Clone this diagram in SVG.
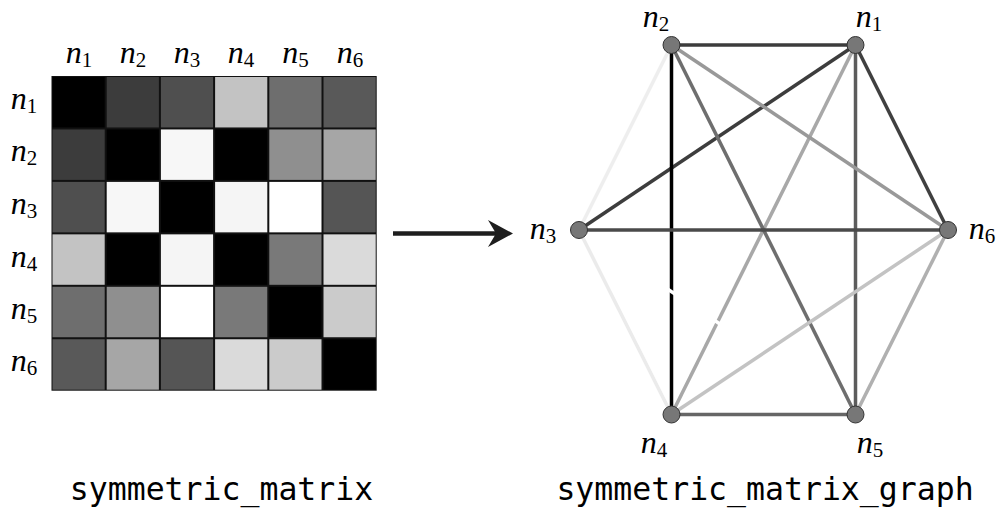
<svg xmlns="http://www.w3.org/2000/svg" width="1000" height="508" viewBox="0 0 1000 508">
<style>
.lbl{font-family:"Liberation Serif","Times New Roman",serif;font-size:32px;fill:#000}
.lbl .v{font-style:italic}
.lbl .s{font-size:21px}
.cap{font-family:"DejaVu Sans Mono","Liberation Mono",monospace;font-size:31.5px;fill:#000}
.edge{stroke-width:3.5;fill:none}
.node{fill:#777;stroke:#333;stroke-width:1}
</style>
<rect width="1000" height="508" fill="#fff"/>
<g id="matrix">
<rect x="51.5" y="76" width="325.2" height="314.7" fill="#111"/>
<g id="row1">
<rect x="52.5" y="77" width="52.2" height="50.45" fill="#000"/>
<rect x="106.7" y="77" width="52.2" height="50.45" fill="#3c3c3c"/>
<rect x="160.9" y="77" width="52.2" height="50.45" fill="#4f4f4f"/>
<rect x="215.1" y="77" width="52.2" height="50.45" fill="#c3c3c3"/>
<rect x="269.3" y="77" width="52.2" height="50.45" fill="#6e6e6e"/>
<rect x="323.5" y="77" width="52.2" height="50.45" fill="#595959"/>
</g>
<g id="row2">
<rect x="52.5" y="129.45" width="52.2" height="50.45" fill="#3c3c3c"/>
<rect x="106.7" y="129.45" width="52.2" height="50.45" fill="#000"/>
<rect x="160.9" y="129.45" width="52.2" height="50.45" fill="#f7f7f7"/>
<rect x="215.1" y="129.45" width="52.2" height="50.45" fill="#000"/>
<rect x="269.3" y="129.45" width="52.2" height="50.45" fill="#8f8f8f"/>
<rect x="323.5" y="129.45" width="52.2" height="50.45" fill="#a6a6a6"/>
</g>
<g id="row3">
<rect x="52.5" y="181.9" width="52.2" height="50.45" fill="#4f4f4f"/>
<rect x="106.7" y="181.9" width="52.2" height="50.45" fill="#f7f7f7"/>
<rect x="160.9" y="181.9" width="52.2" height="50.45" fill="#000"/>
<rect x="215.1" y="181.9" width="52.2" height="50.45" fill="#f5f5f5"/>
<rect x="269.3" y="181.9" width="52.2" height="50.45" fill="#fff"/>
<rect x="323.5" y="181.9" width="52.2" height="50.45" fill="#555"/>
</g>
<g id="row4">
<rect x="52.5" y="234.35" width="52.2" height="50.45" fill="#c3c3c3"/>
<rect x="106.7" y="234.35" width="52.2" height="50.45" fill="#000"/>
<rect x="160.9" y="234.35" width="52.2" height="50.45" fill="#f5f5f5"/>
<rect x="215.1" y="234.35" width="52.2" height="50.45" fill="#000"/>
<rect x="269.3" y="234.35" width="52.2" height="50.45" fill="#797979"/>
<rect x="323.5" y="234.35" width="52.2" height="50.45" fill="#dadada"/>
</g>
<g id="row5">
<rect x="52.5" y="286.8" width="52.2" height="50.45" fill="#6e6e6e"/>
<rect x="106.7" y="286.8" width="52.2" height="50.45" fill="#8f8f8f"/>
<rect x="160.9" y="286.8" width="52.2" height="50.45" fill="#fff"/>
<rect x="215.1" y="286.8" width="52.2" height="50.45" fill="#797979"/>
<rect x="269.3" y="286.8" width="52.2" height="50.45" fill="#000"/>
<rect x="323.5" y="286.8" width="52.2" height="50.45" fill="#cbcbcb"/>
</g>
<g id="row6">
<rect x="52.5" y="339.25" width="52.2" height="50.45" fill="#595959"/>
<rect x="106.7" y="339.25" width="52.2" height="50.45" fill="#a6a6a6"/>
<rect x="160.9" y="339.25" width="52.2" height="50.45" fill="#555"/>
<rect x="215.1" y="339.25" width="52.2" height="50.45" fill="#dadada"/>
<rect x="269.3" y="339.25" width="52.2" height="50.45" fill="#cbcbcb"/>
<rect x="323.5" y="339.25" width="52.2" height="50.45" fill="#000"/>
</g>
</g>
<g id="matrix-col-labels" class="lbl" text-anchor="middle">
<text x="79" y="63"><tspan class="v">n</tspan><tspan class="s" dy="4">1</tspan></text>
<text x="133" y="63"><tspan class="v">n</tspan><tspan class="s" dy="4">2</tspan></text>
<text x="187" y="63"><tspan class="v">n</tspan><tspan class="s" dy="4">3</tspan></text>
<text x="241" y="63"><tspan class="v">n</tspan><tspan class="s" dy="4">4</tspan></text>
<text x="295.5" y="63"><tspan class="v">n</tspan><tspan class="s" dy="4">5</tspan></text>
<text x="350" y="63"><tspan class="v">n</tspan><tspan class="s" dy="4">6</tspan></text>
</g>
<g id="matrix-row-labels" class="lbl" text-anchor="middle">
<text x="24" y="108.5"><tspan class="v">n</tspan><tspan class="s" dy="4">1</tspan></text>
<text x="24" y="161"><tspan class="v">n</tspan><tspan class="s" dy="4">2</tspan></text>
<text x="24" y="213.5"><tspan class="v">n</tspan><tspan class="s" dy="4">3</tspan></text>
<text x="24" y="266.5"><tspan class="v">n</tspan><tspan class="s" dy="4">4</tspan></text>
<text x="24" y="319"><tspan class="v">n</tspan><tspan class="s" dy="4">5</tspan></text>
<text x="24" y="371"><tspan class="v">n</tspan><tspan class="s" dy="4">6</tspan></text>
</g>
<g id="arrow">
<line x1="393" y1="233.5" x2="500" y2="233.5" stroke="#1e1e1e" stroke-width="4.5"/>
<path d="M513,233.5 L488,220 L496,233.5 L488,247 Z" fill="#1e1e1e"/>
</g>
<g id="connectors" class="edge">
<line x1="855.5" y1="45" x2="671.5" y2="45" stroke="#3c3c3c"/>
<line x1="855.5" y1="45" x2="579" y2="230" stroke="#3d3d3d"/>
<line x1="855.5" y1="45" x2="671.5" y2="414.5" stroke="#a8a8a8"/>
<line x1="855.5" y1="45" x2="855.5" y2="414.5" stroke="#5c5c5c"/>
<line x1="855.5" y1="45" x2="948" y2="230" stroke="#404040"/>
<line x1="671.5" y1="45" x2="579" y2="230" stroke="#eeeeee"/>
<line x1="671.5" y1="45" x2="671.5" y2="414.5" stroke="#000"/>
<line x1="671.5" y1="45" x2="855.5" y2="414.5" stroke="#6e6e6e"/>
<line x1="671.5" y1="45" x2="948" y2="230" stroke="#999999"/>
<line x1="579" y1="230" x2="671.5" y2="414.5" stroke="#ebebeb"/>
<line x1="579" y1="230" x2="855.5" y2="414.5" stroke="#ffffff"/>
<line x1="579" y1="230" x2="948" y2="230" stroke="#4a4a4a"/>
<line x1="671.5" y1="414.5" x2="855.5" y2="414.5" stroke="#666666"/>
<line x1="671.5" y1="414.5" x2="948" y2="230" stroke="#c3c3c3"/>
<line x1="855.5" y1="414.5" x2="948" y2="230" stroke="#b0b0b0"/>
</g>
<g id="node-n1"><circle class="node" cx="855.5" cy="45" r="8.5"/><text class="lbl" x="869" y="27" text-anchor="middle"><tspan class="v">n</tspan><tspan class="s" dy="4">1</tspan></text></g>
<g id="node-n2"><circle class="node" cx="671.5" cy="45" r="8.5"/><text class="lbl" x="656" y="27" text-anchor="middle"><tspan class="v">n</tspan><tspan class="s" dy="4">2</tspan></text></g>
<g id="node-n3"><circle class="node" cx="579" cy="230" r="8.5"/><text class="lbl" x="543" y="239" text-anchor="middle"><tspan class="v">n</tspan><tspan class="s" dy="4">3</tspan></text></g>
<g id="node-n4"><circle class="node" cx="671.5" cy="414.5" r="8.5"/><text class="lbl" x="654" y="453" text-anchor="middle"><tspan class="v">n</tspan><tspan class="s" dy="4">4</tspan></text></g>
<g id="node-n5"><circle class="node" cx="855.5" cy="414.5" r="8.5"/><text class="lbl" x="870" y="453" text-anchor="middle"><tspan class="v">n</tspan><tspan class="s" dy="4">5</tspan></text></g>
<g id="node-n6"><circle class="node" cx="948" cy="230" r="8.5"/><text class="lbl" x="982" y="239" text-anchor="middle"><tspan class="v">n</tspan><tspan class="s" dy="4">6</tspan></text></g>
<g id="captions" class="cap" text-anchor="middle">
<text x="221.5" y="500">symmetric_matrix</text>
<text x="765" y="500">symmetric_matrix_graph</text>
</g>
</svg>
